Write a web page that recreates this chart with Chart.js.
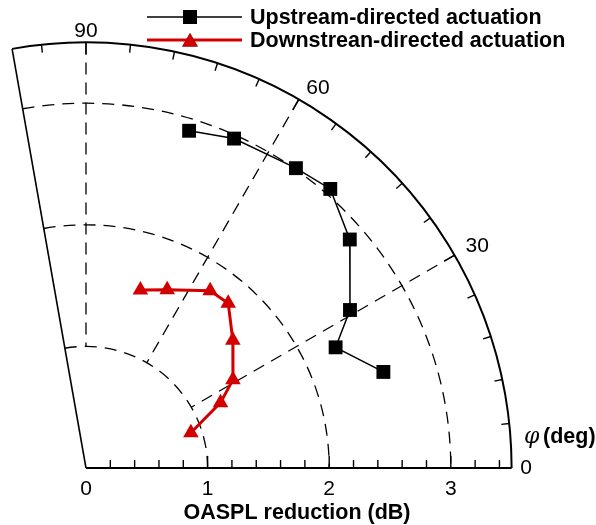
<!DOCTYPE html>
<html>
<head>
<meta charset="utf-8">
<script src="https://cdn.jsdelivr.net/npm/chart.js@4.4.1/dist/chart.umd.min.js"></script>
<style>
html,body{margin:0;padding:0;background:#fff;}
#wrap{width:596px;height:525px;}
</style>
</head>
<body>
<div id="wrap"><canvas id="c" width="596" height="525"></canvas></div>
<script>
// ---- data (polar: angle phi in degrees, radius = OASPL reduction in dB) ----
const seriesNames = ['Upstream-directed actuation', 'Downstrean-directed actuation'];
const phiUp = [73, 65.8, 55, 48.8, 40.9, 30.9, 25.8, 17.9];
const oasplUp = [2.90, 2.97, 3.01, 3.05, 2.87, 2.53, 2.28, 2.57];
const phiDown = [73, 65.5, 55, 49.2, 41, 31, 25.9, 18.6];
const oasplDown = [1.53, 1.61, 1.78, 1.79, 1.60, 1.41, 1.23, 0.91];
const radialTickLabels = [0, 1, 2, 3];
const angleTickLabels = [0, 30, 60, 90];
const rMax = 3.5;
const phiMax = 100;

const D2R = Math.PI / 180;
function toXY(phis, rs) {
  return phis.map((p, i) => ({ x: rs[i] * Math.cos(p * D2R), y: rs[i] * Math.sin(p * D2R) }));
}

const SANS = '"Liberation Sans", Arial, sans-serif';
const RED = '#d20000';

const polarGrid = {
  id: 'polarGrid',
  beforeDatasetsDraw(chart) {
    const ctx = chart.ctx;
    const xs = chart.scales.x, ys = chart.scales.y;
    const cx = xs.getPixelForValue(0), cy = ys.getPixelForValue(0);
    const R = v => xs.getPixelForValue(v) - cx;
    const P = (r, deg) => [xs.getPixelForValue(r * Math.cos(deg * D2R)), ys.getPixelForValue(r * Math.sin(deg * D2R))];
    ctx.save();
    ctx.strokeStyle = '#000';
    // dashed arcs
    ctx.lineWidth = 1.3;
    ctx.setLineDash([12, 8]);
    for (const r of [1, 2, 3]) {
      ctx.beginPath();
      ctx.arc(cx, cy, R(r), -phiMax * D2R, 0, false);
      ctx.stroke();
    }
    // dashed radial lines
    for (const a of [30, 60, 90]) {
      const p0 = P(rMax, a), p1 = P(1, a);
      ctx.beginPath();
      ctx.moveTo(p0[0], p0[1]);
      ctx.lineTo(p1[0], p1[1]);
      ctx.stroke();
    }
    ctx.setLineDash([]);
    // outer solid arc
    ctx.lineWidth = 2;
    ctx.beginPath();
    ctx.arc(cx, cy, R(rMax), -phiMax * D2R, 0, false);
    ctx.stroke();
    // left edge
    ctx.lineWidth = 1.6;
    const pe = P(rMax, phiMax);
    ctx.beginPath();
    ctx.moveTo(cx, cy);
    ctx.lineTo(pe[0], pe[1]);
    ctx.stroke();
    // baseline axis
    ctx.lineWidth = 2;
    ctx.beginPath();
    ctx.moveTo(cx, cy);
    ctx.lineTo(xs.getPixelForValue(rMax), cy);
    ctx.stroke();
    // baseline ticks
    ctx.lineWidth = 1.4;
    for (let k = 1; k <= 17; k++) {
      const v = k * 0.2;
      const major = Math.abs(v - Math.round(v)) < 1e-6;
      const px = xs.getPixelForValue(v);
      ctx.beginPath();
      ctx.moveTo(px, cy);
      ctx.lineTo(px, cy - (major ? 12 : 8));
      ctx.stroke();
    }
    // arc ticks every 6 deg
    for (let a = 6; a < phiMax; a += 6) {
      const major = a % 30 === 0;
      const L = major ? 12 : 8;
      const p0 = P(rMax, a);
      const rIn = rMax - L / (R(1));
      const p1 = P(rIn, a);
      ctx.beginPath();
      ctx.moveTo(p0[0], p0[1]);
      ctx.lineTo(p1[0], p1[1]);
      ctx.stroke();
    }
    ctx.restore();
  },
  afterDraw(chart) {
    const ctx = chart.ctx;
    const xs = chart.scales.x, ys = chart.scales.y;
    const cx = xs.getPixelForValue(0), cy = ys.getPixelForValue(0);
    const P = (r, deg) => [xs.getPixelForValue(r * Math.cos(deg * D2R)), ys.getPixelForValue(r * Math.sin(deg * D2R))];
    ctx.save();
    ctx.fillStyle = '#000';
    // radial tick labels
    ctx.font = '21px ' + SANS;
    ctx.textAlign = 'center';
    ctx.textBaseline = 'middle';
    for (const v of radialTickLabels) {
      ctx.fillText(String(v), xs.getPixelForValue(v), cy + 21);
    }
    // angle tick labels
    const angPos = { 0: [3.62, 0], 30: [3.70, 29.6], 60: [3.66, 58.6], 90: [3.59, 90] };
    for (const a of angleTickLabels) {
      const p = P(angPos[a][0], angPos[a][1]);
      ctx.fillText(String(a), p[0], p[1]);
    }
    // axis title
    ctx.font = 'bold 21.5px ' + SANS;
    ctx.fillText('OASPL reduction (dB)', 297, 513);
    // phi (deg)
    ctx.textAlign = 'left';
    ctx.font = 'italic 22px "DejaVu Serif", serif';
    ctx.fillText('\u03C6', 524, 437);
    ctx.font = 'bold 21.5px ' + SANS;
    ctx.fillText('(deg)', 543, 437);
    // legend
    const legY = [17, 40];
    const ds = chart.data.datasets;
    for (let i = 0; i < ds.length; i++) {
      const d = ds[i];
      ctx.strokeStyle = d.borderColor;
      ctx.lineWidth = d.borderWidth;
      ctx.beginPath();
      ctx.moveTo(147, legY[i]);
      ctx.lineTo(242, legY[i]);
      ctx.stroke();
      Chart.helpers.drawPoint(ctx, {
        pointStyle: d.pointStyle, radius: d.pointRadius, borderWidth: 0, rotation: 0
      }, 190, legY[i] + (d.pointStyle === 'triangle' ? 2 : 0));
      ctx.fillStyle = d.pointBackgroundColor;
      ctx.fill();
      ctx.fillStyle = '#000';
      ctx.font = 'bold 21.5px ' + SANS;
      ctx.textAlign = 'left';
      ctx.textBaseline = 'middle';
      ctx.fillText(seriesNames[i], 250, legY[i] + 1);
    }
    ctx.restore();
  }
};

const W = 596, H = 525, ox = 86, oy = 468, ppu = 121.6;

new Chart(document.getElementById('c'), {
  type: 'scatter',
  data: {
    datasets: [
      {
        label: seriesNames[0],
        data: toXY(phiUp, oasplUp),
        showLine: true,
        borderColor: '#000',
        borderWidth: 1.5,
        pointStyle: 'rect',
        pointRadius: 9.8,
        pointBackgroundColor: '#000',
        pointBorderColor: '#000',
        pointBorderWidth: 0,
        tension: 0
      },
      {
        label: seriesNames[1],
        data: toXY(phiDown, oasplDown),
        showLine: true,
        borderColor: RED,
        borderWidth: 3,
        pointStyle: 'triangle',
        pointRadius: 9,
        pointBackgroundColor: RED,
        pointBorderColor: RED,
        pointBorderWidth: 0,
        tension: 0
      }
    ]
  },
  options: {
    responsive: false,
    animation: false,
    devicePixelRatio: 1,
    layout: { padding: 0, autoPadding: false },
    plugins: { legend: { display: false }, tooltip: { enabled: false }, title: { display: false } },
    scales: {
      x: { type: 'linear', display: false, min: -ox / ppu, max: (W - ox) / ppu },
      y: { type: 'linear', display: false, min: -(H - oy) / ppu, max: oy / ppu }
    }
  },
  plugins: [polarGrid]
});
</script>
</body>
</html>
